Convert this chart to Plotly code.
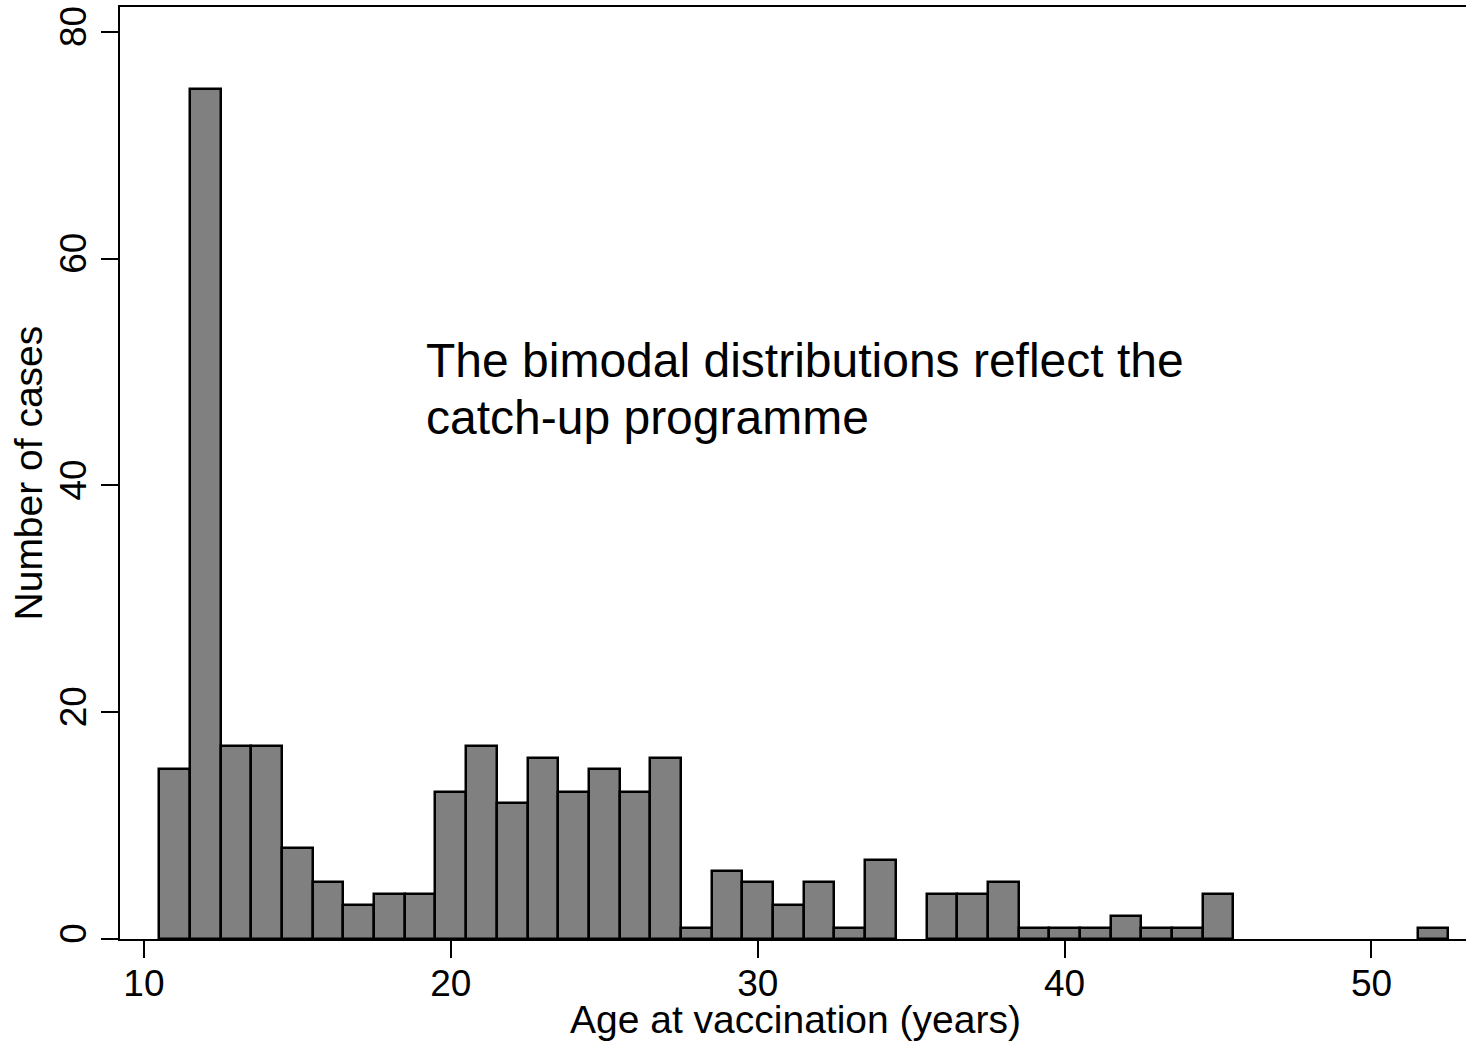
import plotly.graph_objects as go

# Bin centres (age in years, 1-year bins) and number of cases
ages = [11, 12, 13, 14, 15, 16, 17, 18, 19, 20, 21, 22, 23, 24, 25, 26, 27,
        28, 29, 30, 31, 32, 33, 34, 36, 37, 38, 39, 40, 41, 42, 43, 44, 45, 52]
cases = [15, 75, 17, 17, 8, 5, 3, 4, 4, 13, 17, 12, 16, 13, 15, 13, 16,
         1, 6, 5, 3, 5, 1, 7, 4, 4, 5, 1, 1, 1, 2, 1, 1, 4, 1]

x_ticks = [10, 20, 30, 40, 50]
y_ticks = [0, 20, 40, 60, 80]

note_lines = ["The bimodal distributions reflect the", "catch-up programme"]
x_title = "Age at vaccination (years)"
y_title = "Number of cases"

FONT = "Liberation Sans, Arial, sans-serif"

fig = go.Figure()
fig.add_trace(go.Bar(
    x=ages, y=cases, width=1,
    marker=dict(color="#808080", line=dict(color="black", width=2.5)),
    hoverinfo="x+y",
))

for line, yv in zip(note_lines, [53.54, 48.47]):
    fig.add_annotation(
        x=19.12, y=yv, xref="x", yref="y",
        xanchor="left", yanchor="top", align="left",
        text=line, showarrow=False,
        font=dict(family=FONT, size=48, color="black"),
    )

# axis titles
fig.add_annotation(
    x=0.502, y=-0.086, xref="paper", yref="paper",
    xanchor="center", yanchor="middle",
    text=x_title, showarrow=False,
    font=dict(family=FONT, size=39, color="black"),
)
fig.add_annotation(
    x=-0.068, y=0.5, xref="paper", yref="paper",
    xanchor="center", yanchor="middle", textangle=-90,
    text=y_title, showarrow=False,
    font=dict(family=FONT, size=39, color="black"),
)

fig.update_layout(
    width=1466, height=1046,
    margin=dict(l=120, r=0, t=7, b=107, autoexpand=False),
    paper_bgcolor="white", plot_bgcolor="white",
    bargap=0, showlegend=False,
    font=dict(family=FONT, color="black"),
)
fig.update_xaxes(
    range=[9.22, 53.08], automargin=False,
    tickvals=x_ticks, ticktext=[str(v) for v in x_ticks],
    ticks="outside", ticklen=17, tickwidth=2, tickcolor="black",
    ticklabelstandoff=-6,
    showline=True, linecolor="black", linewidth=2, mirror=True,
    showgrid=False, zeroline=False,
    tickfont=dict(family=FONT, size=37, color="black"),
)
fig.update_yaxes(
    range=[0, 82.2], automargin=False,
    tickvals=y_ticks, ticktext=[str(v) for v in y_ticks],
    tickangle=-90,
    ticks="outside", ticklen=17, tickwidth=2, tickcolor="black",
    showline=True, linecolor="black", linewidth=2, mirror=False,
    showgrid=False, zeroline=False,
    tickfont=dict(family=FONT, size=37, color="black"),
)

fig.write_html("out.html",
               config={"displayModeBar": False},
               post_script="document.body.style.margin='0';document.body.style.overflow='hidden';")
